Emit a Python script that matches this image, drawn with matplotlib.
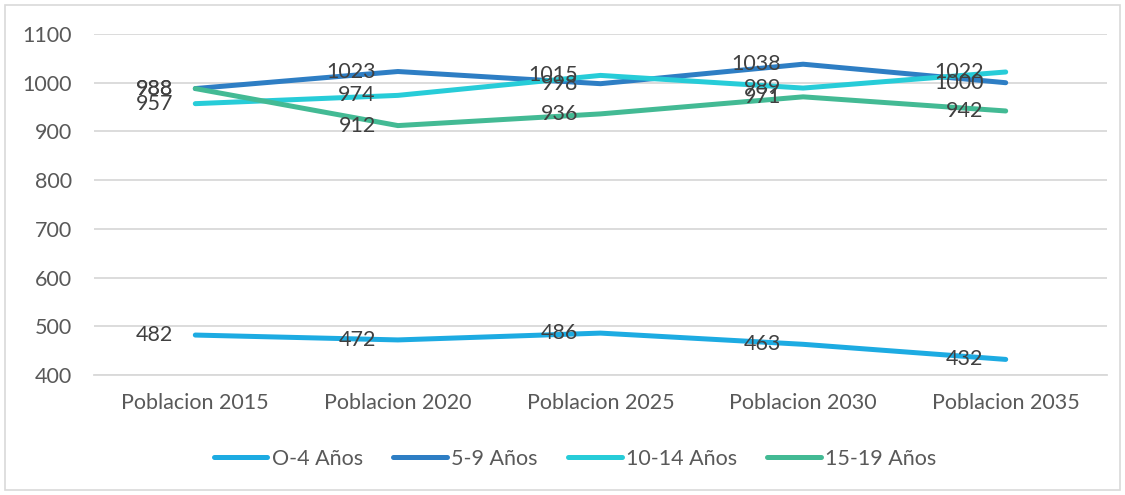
import matplotlib
matplotlib.use("Agg")
import matplotlib.pyplot as plt
from matplotlib.patches import Rectangle

categories = ["Poblacion 2015", "Poblacion 2020", "Poblacion 2025", "Poblacion 2030", "Poblacion 2035"]
series_names = ["O-4 Años", "5-9 Años", "10-14 Años", "15-19 Años"]
s_0_4 = [482, 472, 486, 463, 432]
s_5_9 = [988, 1023, 998, 1038, 1000]
s_10_14 = [957, 974, 1015, 989, 1022]
s_15_19 = [988, 912, 936, 971, 942]
colors = ["#1DABE2", "#2E7EC4", "#27CCD8", "#43BA94"]
yticks = [400, 500, 600, 700, 800, 900, 1000, 1100]

plt.rcParams['font.family'] = ['Lato', 'DejaVu Sans']
FS = 15.5

fig = plt.figure(figsize=(11.25, 4.95), dpi=100)
ax = fig.add_axes([94/1125, 1 - 375/495, (1107-94)/1125, (375-34)/495])

x = list(range(len(categories)))
for name, vals, c in zip(series_names, [s_0_4, s_5_9, s_10_14, s_15_19], colors):
    ax.plot(x, vals, color=c, lw=3.6, solid_capstyle='round', solid_joinstyle='round', label=name)
    for xi, v in zip(x, vals):
        ax.annotate(str(v), (xi, v), xytext=(-16, 0), textcoords='offset points',
                    ha='right', va='center', fontsize=FS, color='#404040')

ax.set_xlim(-0.5, len(categories) - 0.5)
ax.set_ylim(400, 1100)
ax.set_yticks(yticks)
ax.set_xticks(x)
ax.set_xticklabels(categories)
ax.grid(axis='y', color='#D9D9D9', lw=1.3)
ax.set_axisbelow(True)
for s in ax.spines.values():
    s.set_visible(False)
ax.spines['bottom'].set_visible(True)
ax.spines['bottom'].set_color('#D9D9D9')
ax.spines['bottom'].set_linewidth(1.3)
ax.tick_params(axis='both', length=0, labelsize=FS, labelcolor='#595959')
ax.tick_params(axis='x', pad=13)
ax.tick_params(axis='y', pad=16)

leg = fig.legend(loc='center', bbox_to_anchor=(575/1125, 1 - 459/495), ncol=4, frameon=False,
                 fontsize=FS, handlelength=2.5, handletextpad=0.2, columnspacing=1.4)
for t in leg.get_texts():
    t.set_color('#595959')

fig.patches.append(Rectangle((5/1125, 5/495), 1115/1125, 485/495, transform=fig.transFigure,
                             fill=False, edgecolor='#D9D9D9', lw=1.2))
fig.savefig("out.png", dpi=100)
